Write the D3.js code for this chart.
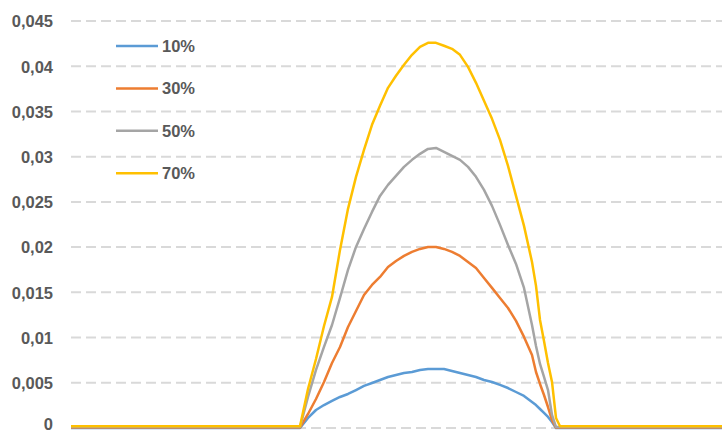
<!DOCTYPE html>
<html>
<head>
<meta charset="utf-8">
<script src="https://cdn.jsdelivr.net/npm/d3@7/dist/d3.min.js"></script>
<style>
  html, body { margin: 0; padding: 0; background: #fff; }
  svg { display: block; }
</style>
</head>
<body>
<svg id="chart" width="722" height="432"></svg>
<script>
// ---- data ----
const seriesNames = ["10%", "30%", "50%", "70%"];
const seriesColors = ["#5b9bd5", "#ed7d31", "#a5a5a5", "#ffc000"];
const tickValues = [0, 0.005, 0.01, 0.015, 0.02, 0.025, 0.03, 0.035, 0.04, 0.045];
const tickLabels = ["0", "0,005", "0,01", "0,015", "0,02", "0,025", "0,03", "0,035", "0,04", "0,045"];

// sample positions (time steps)
const steps = [0, 229, 237, 245, 253, 261, 269, 277, 285, 293, 301, 309, 317, 325, 333, 341, 349,
  357, 365, 373, 381, 389, 397, 405, 413, 421, 429, 437, 445, 453, 461, 465, 469, 473, 477, 481, 485, 489, 660];

const s10 = [0, 0, 0.00111, 0.00199, 0.00254, 0.00299, 0.00343, 0.00376, 0.00420, 0.00465, 0.00498,
  0.00531, 0.00564, 0.00586, 0.00608, 0.00619, 0.00642, 0.00653, 0.00653, 0.00653, 0.00631, 0.00608,
  0.00586, 0.00564, 0.00531, 0.00509, 0.00476, 0.00442, 0.00398, 0.00354, 0.00288, 0.00254, 0.00210,
  0.00166, 0.00122, 0.00066, 0, 0, 0];
const s30 = [0.00005, 0.00005, 0.00155, 0.00321, 0.00509, 0.00719, 0.00896, 0.01117, 0.01294, 0.01471, 0.01582,
  0.01670, 0.01781, 0.01847, 0.01903, 0.01947, 0.01980, 0.02002, 0.02002, 0.01980, 0.01947, 0.01903,
  0.01836, 0.01770, 0.01659, 0.01549, 0.01438, 0.01327, 0.01184, 0.01007, 0.00808, 0.00619, 0.00487,
  0.00365, 0.00232, 0.00088, 0.00005, 0.00005, 0.00005];
const s50 = [0.0001, 0.0001, 0.00343, 0.00642, 0.00896, 0.01139, 0.01438, 0.01748, 0.02002, 0.02201, 0.02389,
  0.02566, 0.02688, 0.02788, 0.02887, 0.02965, 0.03031, 0.03086, 0.03097, 0.03053, 0.03009, 0.02965,
  0.02887, 0.02777, 0.02633, 0.02456, 0.02246, 0.02024, 0.01814, 0.01549, 0.01139, 0.00907, 0.00708,
  0.00564, 0.00420, 0.00144, 0.0001, 0.0001, 0.0001];
const s70 = [0.0002, 0.0002, 0.00431, 0.00763, 0.01128, 0.01449, 0.01969, 0.02423, 0.02777, 0.03075, 0.03352,
  0.03562, 0.03761, 0.03894, 0.04016, 0.04126, 0.04215, 0.04259, 0.04259, 0.04226, 0.04192, 0.04126,
  0.03993, 0.03816, 0.03617, 0.03418, 0.03186, 0.02898, 0.02566, 0.02235, 0.01836, 0.01571, 0.01195,
  0.00962, 0.00719, 0.00509, 0.00111, 0.0002, 0.0002];
const seriesValues = [s10, s30, s50, s70];

// ---- layout ----
const svg = d3.select("#chart");
const plotLeft = 71, plotRight = 722, plotTop = 21, plotBottom = 428;

const x = d3.scaleLinear().domain([0, 660]).range([plotLeft, 731]);
const y = d3.scaleLinear().domain([0, 0.045]).range([plotBottom, plotTop]);

// gridlines
svg.append("g")
  .selectAll("line")
  .data(tickValues)
  .join("line")
  .attr("x1", plotLeft).attr("x2", plotRight)
  .attr("y1", d => y(d)).attr("y2", d => y(d))
  .attr("stroke", "#d9d9d9")
  .attr("stroke-width", 2)
  .attr("stroke-dasharray", "10,5");

// y axis labels
const yAxis = d3.axisLeft(y)
  .tickValues(tickValues)
  .tickFormat((d, i) => tickLabels[i])
  .tickSize(0)
  .tickPadding(0);
const gy = svg.append("g")
  .attr("transform", "translate(53,0)")
  .call(yAxis);
gy.select(".domain").remove();
gy.selectAll("text")
  .attr("fill", "#595959")
  .style("font-family", "'Liberation Sans', Arial, sans-serif")
  .style("font-weight", "bold")
  .style("font-size", "16.5px")
  .attr("dy", d => d === 0 ? "0.08em" : "0.35em");

// lines
const line = d3.line()
  .x((d, i) => x(steps[i]))
  .y(d => y(d));

svg.append("g")
  .selectAll("path")
  .data(seriesValues)
  .join("path")
  .attr("d", d => line(d))
  .attr("fill", "none")
  .attr("stroke", (d, i) => seriesColors[i])
  .attr("stroke-width", 2.5)
  .attr("stroke-linejoin", "round");

// legend
const legend = svg.append("g");
const lg = legend.selectAll("g")
  .data(seriesNames)
  .join("g")
  .attr("transform", (d, i) => `translate(116,${46 + i * 42.4})`);
lg.append("line")
  .attr("x1", 0).attr("x2", 42)
  .attr("y1", 0).attr("y2", 0)
  .attr("stroke", (d, i) => seriesColors[i])
  .attr("stroke-width", 2.5);
lg.append("text")
  .attr("x", 46)
  .attr("y", 0)
  .attr("dy", "0.35em")
  .attr("fill", "#595959")
  .style("font-family", "'Liberation Sans', Arial, sans-serif")
  .style("font-weight", "bold")
  .style("font-size", "16.5px")
  .text(d => d);
</script>
</body>
</html>
